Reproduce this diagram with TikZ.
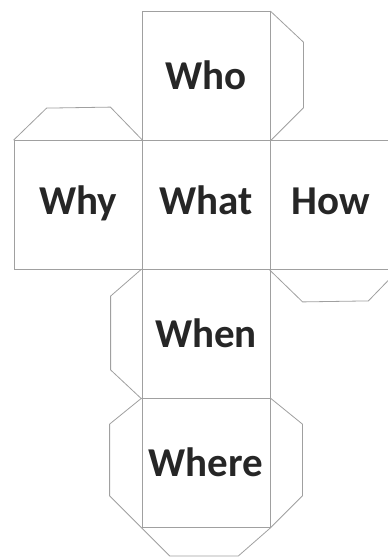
\documentclass[tikz,border=0pt]{standalone}
\usepackage{fontspec}
\setmainfont{Carlito}
\usepackage{tikz}
\usetikzlibrary{calc}
\definecolor{netLine}{HTML}{A0A0A0}
\definecolor{wordColor}{HTML}{262626}

\begin{document}
\begin{tikzpicture}[x=1pt, y=-1pt,
    face/.style={draw=netLine, line width=0.8pt, minimum width=128pt, minimum height=129pt,
        inner sep=0pt, text height=27pt, text depth=0pt, text=wordColor,
        font=\fontsize{41}{50}\selectfont\bfseries},
    tab/.style={draw=netLine, line width=0.8pt, line join=round}]
    \clip (0,0) rectangle (388,558);
    \fill[white] (0,0) rectangle (388,558);

    \node[face] (who)   at (206,76)  {Who};
    \node[face] (what)  at (206,205) {\raisebox{4pt}{What}};
    \node[face] (why)   at (78,205)  {\raisebox{4pt}{Why}};
    \node[face] (how)   at (334,205) {\raisebox{4pt}{How\hspace{6pt}}};
    \node[face] (when)  at (206,334) {When};
    \node[face] (where) at (206,463) {Where};

    \draw[tab] (who.north east) -- ++(33,31) -- ($(who.south east)+(33,-33)$) -- (who.south east);
    \draw[tab] (why.north west) -- ++(33,-32) -- ($(why.north east)+(-32,-33)$) -- (why.north east);
    \draw[tab] (how.south west) -- ++(33,32) -- ($(how.south east)+(-30,31)$) -- (how.south east);
    \draw[tab] (when.north west) -- ++(-31,27) -- ($(when.south west)+(-31,-29)$) -- (when.south west);
    \draw[tab] (where.north west) -- ++(-32,26) -- ($(where.south west)+(-32,-32)$) -- (where.south west);
    \draw[tab] (where.north east) -- ++(32,26) -- ($(where.south east)+(32,-32)$) -- (where.south east);
    \draw[tab] (where.south west) -- ++(28,28) -- ($(where.south east)+(-32,28)$) -- (where.south east);
\end{tikzpicture}
\end{document}
